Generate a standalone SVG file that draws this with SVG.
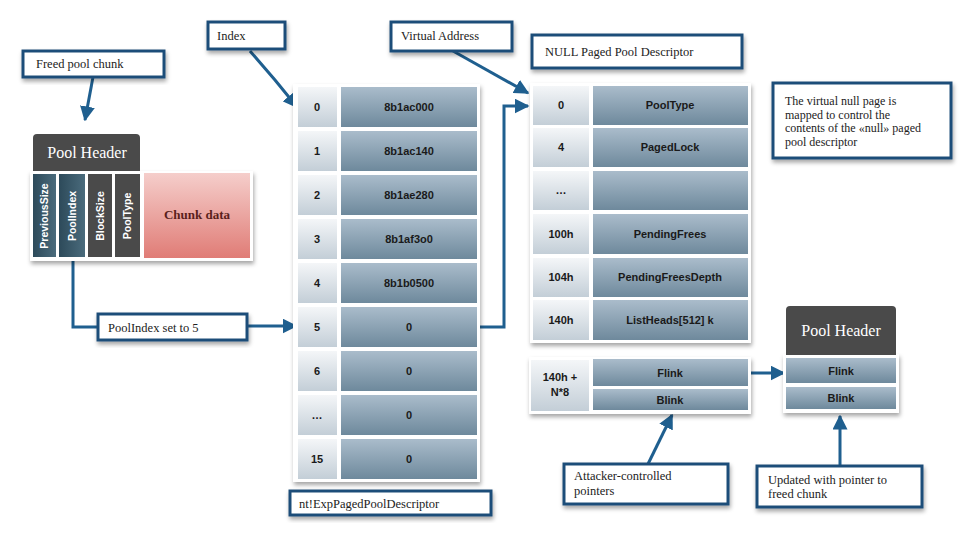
<svg xmlns="http://www.w3.org/2000/svg" width="971" height="538" viewBox="0 0 971 538">
<defs>
<linearGradient id="gVal" x1="0" y1="0" x2="0" y2="1"><stop offset="0" stop-color="#aabccb"/><stop offset="1" stop-color="#6e899c"/></linearGradient>
<linearGradient id="gIdx" x1="0" y1="0" x2="0" y2="1"><stop offset="0" stop-color="#f4f6f8"/><stop offset="1" stop-color="#c3ced7"/></linearGradient>
<linearGradient id="gTeal" x1="0" y1="0" x2="1" y2="0"><stop offset="0" stop-color="#2d4a5a"/><stop offset="1" stop-color="#4a6b7c"/></linearGradient>
<linearGradient id="gChunk" x1="0" y1="0" x2="0" y2="1"><stop offset="0" stop-color="#f5cecb"/><stop offset="1" stop-color="#e07c76"/></linearGradient>
<filter id="sh" x="-10%" y="-10%" width="130%" height="140%"><feDropShadow dx="1" dy="3" stdDeviation="2" flood-color="#000" flood-opacity="0.35"/></filter>
<marker id="ah" viewBox="0 0 10 10" refX="9" refY="5" markerWidth="5" markerHeight="5" orient="auto-start-reverse"><path d="M0,0 L10,5 L0,10 z" fill="#1f5f8f"/></marker>
</defs>
<style>
.lbl{fill:#fff;stroke:#1f4e79;stroke-width:3;filter:url(#sh)}
.lt{font-family:"Liberation Serif",serif;font-size:12.5px;fill:#222}
.nt{font-family:"Liberation Serif",serif;font-size:12px;fill:#222}
.panel{fill:#fff;filter:url(#sh)}
.val{fill:url(#gVal)}
.idx{fill:url(#gIdx)}
.tt{font-family:"Liberation Sans",Arial,sans-serif;font-weight:bold;font-size:11px;fill:#1a1a1a;text-anchor:middle}
.vt{font-family:"Liberation Sans",Arial,sans-serif;font-weight:bold;font-size:10.5px;fill:#fff;text-anchor:middle}
.ph{font-family:"Liberation Serif",serif;font-size:16px;fill:#fff;text-anchor:middle}
.con{fill:none;stroke:#1f5f8f;stroke-width:3;marker-end:url(#ah)}
.cn{fill:none;stroke:#1f5f8f;stroke-width:3}
</style>
<rect width="971" height="538" fill="#fff"/>

<g id="connectors">
<path class="con" d="M93,77 L85,120"/>
<path class="cn" d="M73,258 L73,327 L98,327"/>
<path class="con" d="M247,326 L296,326"/>
<path class="con" d="M250,51 L275,80 L297,107"/>
<path class="con" d="M453,51 L528,93"/>
<path class="con" d="M478,327 L504,327 L504,106 L528,106"/>
<path class="con" d="M751,373 L784,373"/>
<path class="con" d="M648,464 L672,415"/>
<path class="con" d="M840,467 L840,416"/>
</g>

<g id="freed-pool-chunk">
<rect class="lbl" x="23" y="51" width="141" height="26"/>
<text class="lt" x="36" y="68">Freed pool chunk</text>
</g>

<g id="pool-chunk">
<rect class="panel" x="30" y="171" width="223" height="90"/>
<path d="M33,138 Q33,134 37,134 L136,134 Q140,134 140,138 L140,171 L33,171 z" fill="#4a4a4a"/>
<text class="ph" x="87" y="158">Pool Header</text>
<rect x="33" y="174" width="23" height="83" fill="url(#gTeal)"/>
<rect x="59" y="174" width="26" height="83" fill="url(#gTeal)"/>
<rect x="88" y="174" width="24" height="83" fill="#4a4a4a"/>
<rect x="115" y="174" width="25" height="83" fill="#4a4a4a"/>
<rect x="144" y="173" width="106" height="85" fill="url(#gChunk)"/>
<text class="vt" transform="translate(48,216) rotate(-90)">PreviousSize</text>
<text class="vt" transform="translate(76,216) rotate(-90)">PoolIndex</text>
<text class="vt" transform="translate(104,216) rotate(-90)">BlockSize</text>
<text class="vt" transform="translate(131,216) rotate(-90)">PoolType</text>
<text x="197" y="219" font-family="'Liberation Serif',serif" font-weight="bold" font-size="13" fill="#5a1f1c" text-anchor="middle">Chunk data</text>
</g>

<g id="poolindex-label">
<rect class="lbl" x="98" y="314" width="149" height="26"/>
<text class="lt" x="108" y="332">PoolIndex set to 5</text>
</g>

<g id="index-label">
<rect class="lbl" x="208" y="22" width="77" height="27"/>
<text class="lt" x="217" y="40">Index</text>
</g>

<g id="virtual-address-label">
<rect class="lbl" x="391" y="22" width="121" height="29"/>
<text class="lt" x="401" y="40">Virtual Address</text>
</g>

<g id="exp-paged-pool-descriptor">
<rect class="panel" x="293" y="84" width="187" height="398"/>
<rect class="idx" x="298" y="87" width="39" height="40"/><rect class="val" x="341" y="87" width="136" height="40"/>
<text class="tt" x="317" y="111">0</text><text class="tt" x="409" y="111">8b1ac000</text>
<rect class="idx" x="298" y="131" width="39" height="40"/><rect class="val" x="341" y="131" width="136" height="40"/>
<text class="tt" x="317" y="155">1</text><text class="tt" x="409" y="155">8b1ac140</text>
<rect class="idx" x="298" y="175" width="39" height="40"/><rect class="val" x="341" y="175" width="136" height="40"/>
<text class="tt" x="317" y="199">2</text><text class="tt" x="409" y="199">8b1ae280</text>
<rect class="idx" x="298" y="219" width="39" height="40"/><rect class="val" x="341" y="219" width="136" height="40"/>
<text class="tt" x="317" y="243">3</text><text class="tt" x="409" y="243">8b1af3o0</text>
<rect class="idx" x="298" y="263" width="39" height="40"/><rect class="val" x="341" y="263" width="136" height="40"/>
<text class="tt" x="317" y="287">4</text><text class="tt" x="409" y="287">8b1b0500</text>
<rect class="idx" x="298" y="307" width="39" height="40"/><rect class="val" x="341" y="307" width="136" height="40"/>
<text class="tt" x="317" y="331">5</text><text class="tt" x="409" y="331">0</text>
<rect class="idx" x="298" y="351" width="39" height="40"/><rect class="val" x="341" y="351" width="136" height="40"/>
<text class="tt" x="317" y="375">6</text><text class="tt" x="409" y="375">0</text>
<rect class="idx" x="298" y="395" width="39" height="40"/><rect class="val" x="341" y="395" width="136" height="40"/>
<text class="tt" x="317" y="419">…</text><text class="tt" x="409" y="419">0</text>
<rect class="idx" x="298" y="439" width="39" height="40"/><rect class="val" x="341" y="439" width="136" height="40"/>
<text class="tt" x="317" y="463">15</text><text class="tt" x="409" y="463">0</text>
</g>

<g id="exp-label">
<rect class="lbl" x="290" y="491" width="201" height="24"/>
<text class="lt" x="299" y="508">nt!ExpPagedPoolDescriptor</text>
</g>

<g id="null-label">
<rect class="lbl" x="532" y="35" width="210" height="33"/>
<text class="lt" x="545" y="56">NULL Paged Pool Descriptor</text>
</g>

<g id="null-paged-pool-descriptor">
<rect class="panel" x="530" y="83" width="221" height="260"/>
<rect class="idx" x="533" y="86" width="56" height="39"/><rect class="val" x="593" y="86" width="155" height="39"/>
<text class="tt" x="561" y="109">0</text><text class="tt" x="670" y="109">PoolType</text>
<rect class="idx" x="533" y="128" width="56" height="39"/><rect class="val" x="593" y="128" width="155" height="39"/>
<text class="tt" x="561" y="151">4</text><text class="tt" x="670" y="151">PagedLock</text>
<rect class="idx" x="533" y="171" width="56" height="39"/><rect class="val" x="593" y="171" width="155" height="39"/>
<text class="tt" x="561" y="194">…</text>
<rect class="idx" x="533" y="214" width="56" height="40"/><rect class="val" x="593" y="214" width="155" height="40"/>
<text class="tt" x="561" y="238">100h</text><text class="tt" x="670" y="238">PendingFrees</text>
<rect class="idx" x="533" y="258" width="56" height="39"/><rect class="val" x="593" y="258" width="155" height="39"/>
<text class="tt" x="561" y="281">104h</text><text class="tt" x="670" y="281">PendingFreesDepth</text>
<rect class="idx" x="533" y="300" width="56" height="40"/><rect class="val" x="593" y="300" width="155" height="40"/>
<text class="tt" x="561" y="324">140h</text><text class="tt" x="670" y="324">ListHeads[512]  k</text>
</g>

<g id="list-entry">
<rect class="panel" x="529" y="357" width="222" height="57"/>
<rect class="idx" x="531" y="360" width="58" height="51"/>
<text class="tt" x="560" y="381">140h +</text><text class="tt" x="560" y="396">N*8</text>
<rect class="val" x="593" y="359" width="155" height="27"/>
<text class="tt" x="670" y="377">Flink</text>
<rect class="val" x="593" y="389" width="155" height="21"/>
<text class="tt" x="670" y="404">Blink</text>
</g>

<g id="pool-header-right">
<rect class="panel" x="783" y="354" width="116" height="59"/>
<path d="M786,310 Q786,306 790,306 L892,306 Q896,306 896,310 L896,355 L786,355 z" fill="#4a4a4a"/>
<text class="ph" x="841" y="336">Pool Header</text>
<rect class="val" x="786" y="358" width="110" height="25"/>
<text class="tt" x="841" y="375">Flink</text>
<rect class="val" x="786" y="387" width="110" height="22"/>
<text class="tt" x="841" y="402">Blink</text>
</g>

<g id="attacker-label">
<rect class="lbl" x="564" y="464" width="164" height="40"/>
<text class="lt" x="574" y="480">Attacker-controlled</text>
<text class="lt" x="574" y="495">pointers</text>
</g>

<g id="updated-label">
<rect class="lbl" x="757" y="466" width="165" height="41"/>
<text class="lt" x="768" y="484">Updated with pointer to</text>
<text class="lt" x="768" y="498">freed chunk</text>
</g>

<g id="note">
<rect class="lbl" x="773" y="83" width="178" height="75"/>
<text class="nt" x="785" y="105">The virtual null page is</text>
<text class="nt" x="785" y="118.5">mapped to control the</text>
<text class="nt" x="785" y="132">contents of the «null» paged</text>
<text class="nt" x="785" y="145.5">pool descriptor</text>
</g>
</svg>
